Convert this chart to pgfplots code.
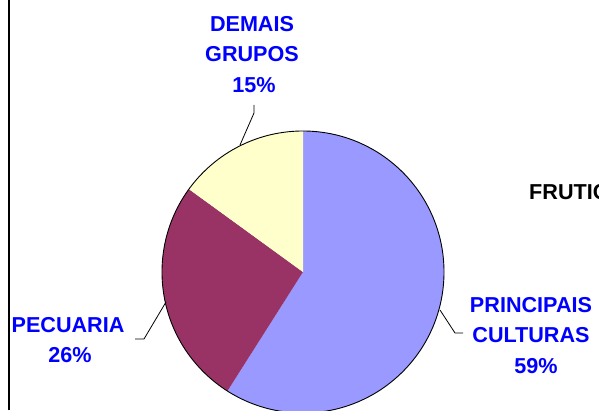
\documentclass[border=0pt]{standalone}
\usepackage{pgfplots}
\pgfplotsset{compat=1.18}
\usepackage{pgfplotstable}
\usepackage{fontspec}
\setmainfont{Liberation Sans}

\definecolor{culturas}{HTML}{9999FF}
\definecolor{pecuaria}{HTML}{993366}
\definecolor{demais}{HTML}{FFFFCC}
\definecolor{lblblue}{HTML}{0000FF}

% participacao por grupo (%)
\pgfplotstableread{
grupo valor
culturas 59
pecuaria 26
demais 15
}\pietable

\newcommand{\lbl}{\bfseries\fontsize{21.6}{30}\selectfont}

\begin{document}
\begin{tikzpicture}
% angulos das fatias, sentido horario a partir do topo
\pgfplotstablegetelem{0}{valor}\of\pietable \let\va\pgfplotsretval
\pgfplotstablegetelem{1}{valor}\of\pietable \let\vb\pgfplotsretval
\pgfplotstablegetelem{2}{valor}\of\pietable \let\vc\pgfplotsretval
\pgfmathsetmacro\aA{90-3.6*\va}
\pgfmathsetmacro\aB{\aA-3.6*\vb}
\pgfmathsetmacro\aC{\aB-3.6*\vc}
\begin{axis}[
  width=599pt, height=410pt, scale only axis,
  hide axis, clip=false,
  xmin=0, xmax=599, ymin=0, ymax=410,
]
  \coordinate (ll) at (0,0);
  \coordinate (ur) at (599,410);

  % fatias
  \fill[culturas] (303,138) -- ++(90:141pt) arc[start angle=90, end angle=\aA, radius=141pt] -- cycle;
  \fill[pecuaria] (303,138) -- ++(\aA:141pt) arc[start angle=\aA, end angle=\aB, radius=141pt] -- cycle;
  \fill[demais] (303,138) -- ++(\aB:141pt) arc[start angle=\aB, end angle=\aC, radius=141pt] -- cycle;
  \draw[black, line width=0.9pt] (303,138) circle[radius=141pt];

  % linha vertical a esquerda
  \draw[black, line width=2pt] (9,0) -- (9,410);

  % linhas de chamada
  \draw[black, line width=0.8pt] (240,265) -- (254,297) -- (254,305);
  \draw[black, line width=0.8pt] (135,71) -- (144,71) -- (166,108);
  \draw[black, line width=0.8pt] (440,100) -- (455,77) -- (463,77);

  % rotulos
  \node[anchor=base, inner sep=0, text=lblblue, font=\lbl] at (252,378) {DEMAIS};
  \node[anchor=base, inner sep=0, text=lblblue, font=\lbl] at (252,348) {GRUPOS};
  \node[anchor=base, inner sep=0, text=lblblue, font=\lbl] at (254,317) {15\%};

  \node[anchor=base, inner sep=0, text=lblblue, font=\lbl] at (68,78) {PECUARIA};
  \node[anchor=base, inner sep=0, text=lblblue, font=\lbl] at (70,48) {26\%};

  \node[anchor=base, inner sep=0, text=lblblue, font=\lbl] at (531,98) {PRINCIPAIS};
  \node[anchor=base, inner sep=0, text=lblblue, font=\lbl] at (531,68) {CULTURAS};
  \node[anchor=base, inner sep=0, text=lblblue, font=\lbl] at (536,37) {59\%};

  \node[anchor=base west, inner sep=0, text=black, font=\lbl] at (529,210) {FRUTICULTURA};
\end{axis}
\pgfresetboundingbox
\path[use as bounding box] (ll) rectangle (ur);
\end{tikzpicture}
\end{document}
